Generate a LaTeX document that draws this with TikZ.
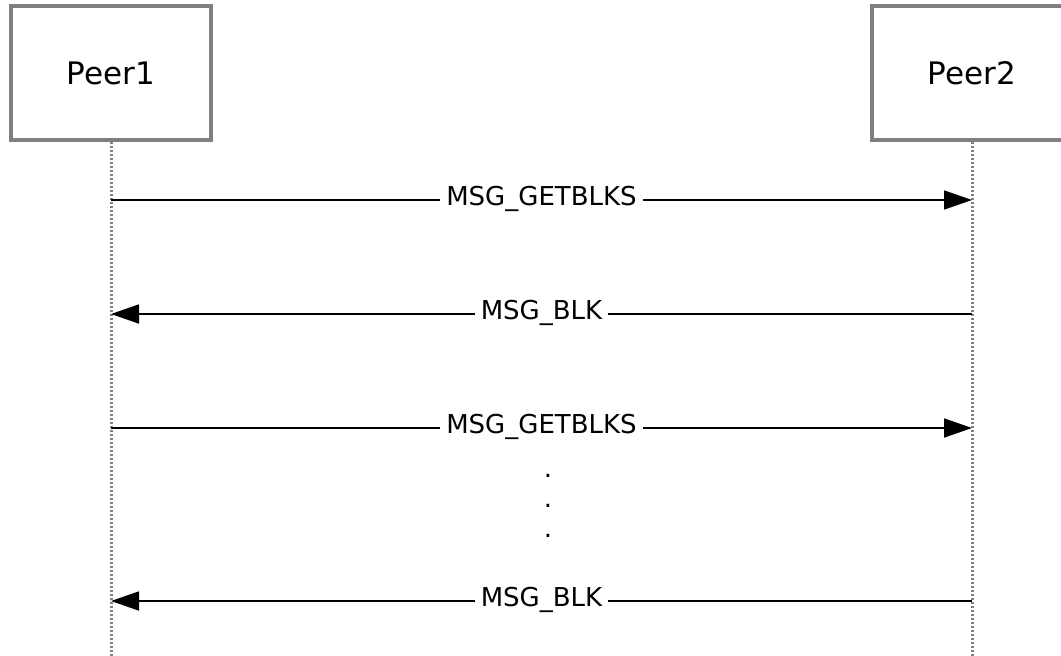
\documentclass[tikz,border=0pt]{standalone}
\usepackage{fontspec}
\setmainfont{DejaVu Sans}
\usetikzlibrary{arrows.meta}
\begin{document}
\begin{tikzpicture}[x=1pt,y=-1pt,
peer/.style={draw=gray,line width=3.5pt,minimum width=200pt,minimum height=134pt,font=\fontsize{31}{36}\selectfont},
life/.style={gray,line width=3pt,dash pattern=on 2.5pt off 1.5pt},
msg/.style={line width=1.8pt,-{Triangle[length=28pt,width=19pt]}},
lbl/.style={fill=white,inner sep=6pt,font=\fontsize{26}{31}\selectfont}]
\useasboundingbox (0,0) rectangle (1061,656);
\clip (0,0) rectangle (1061,656);
\node[peer] (p1) at (111,73) {Peer1};
\node[peer] (p2) at (972,73) {Peer2};
\coordinate (p1end) at (111,656);
\coordinate (p2end) at (972,656);
\draw[life] (p1.south)--(p1end);
\draw[life] (p2.south)--(p2end);
% messages
\coordinate (a1) at (111,200); \coordinate (b1) at (972,200);
\coordinate (a2) at (111,314); \coordinate (b2) at (972,314);
\coordinate (a3) at (111,428); \coordinate (b3) at (972,428);
\coordinate (a4) at (111,601); \coordinate (b4) at (972,601);
\draw[msg](a1)--(b1)node[lbl,midway,yshift=1.5pt]{MSG\_GETBLKS};
\draw[msg](b2)--(a2)node[lbl,midway,yshift=1.5pt]{MSG\_BLK};
\draw[msg](a3)--(b3)node[lbl,midway,yshift=1.5pt]{MSG\_GETBLKS};
\draw[msg](b4)--(a4)node[lbl,midway,yshift=1.5pt]{MSG\_BLK};
\node[font=\fontsize{26}{31}\selectfont,inner sep=0pt] (d1) at (548,476) {.};
\node[font=\fontsize{26}{31}\selectfont,inner sep=0pt] (d2) at (548,506) {.};
\node[font=\fontsize{26}{31}\selectfont,inner sep=0pt] (d3) at (548,536) {.};
\end{tikzpicture}
\end{document}
